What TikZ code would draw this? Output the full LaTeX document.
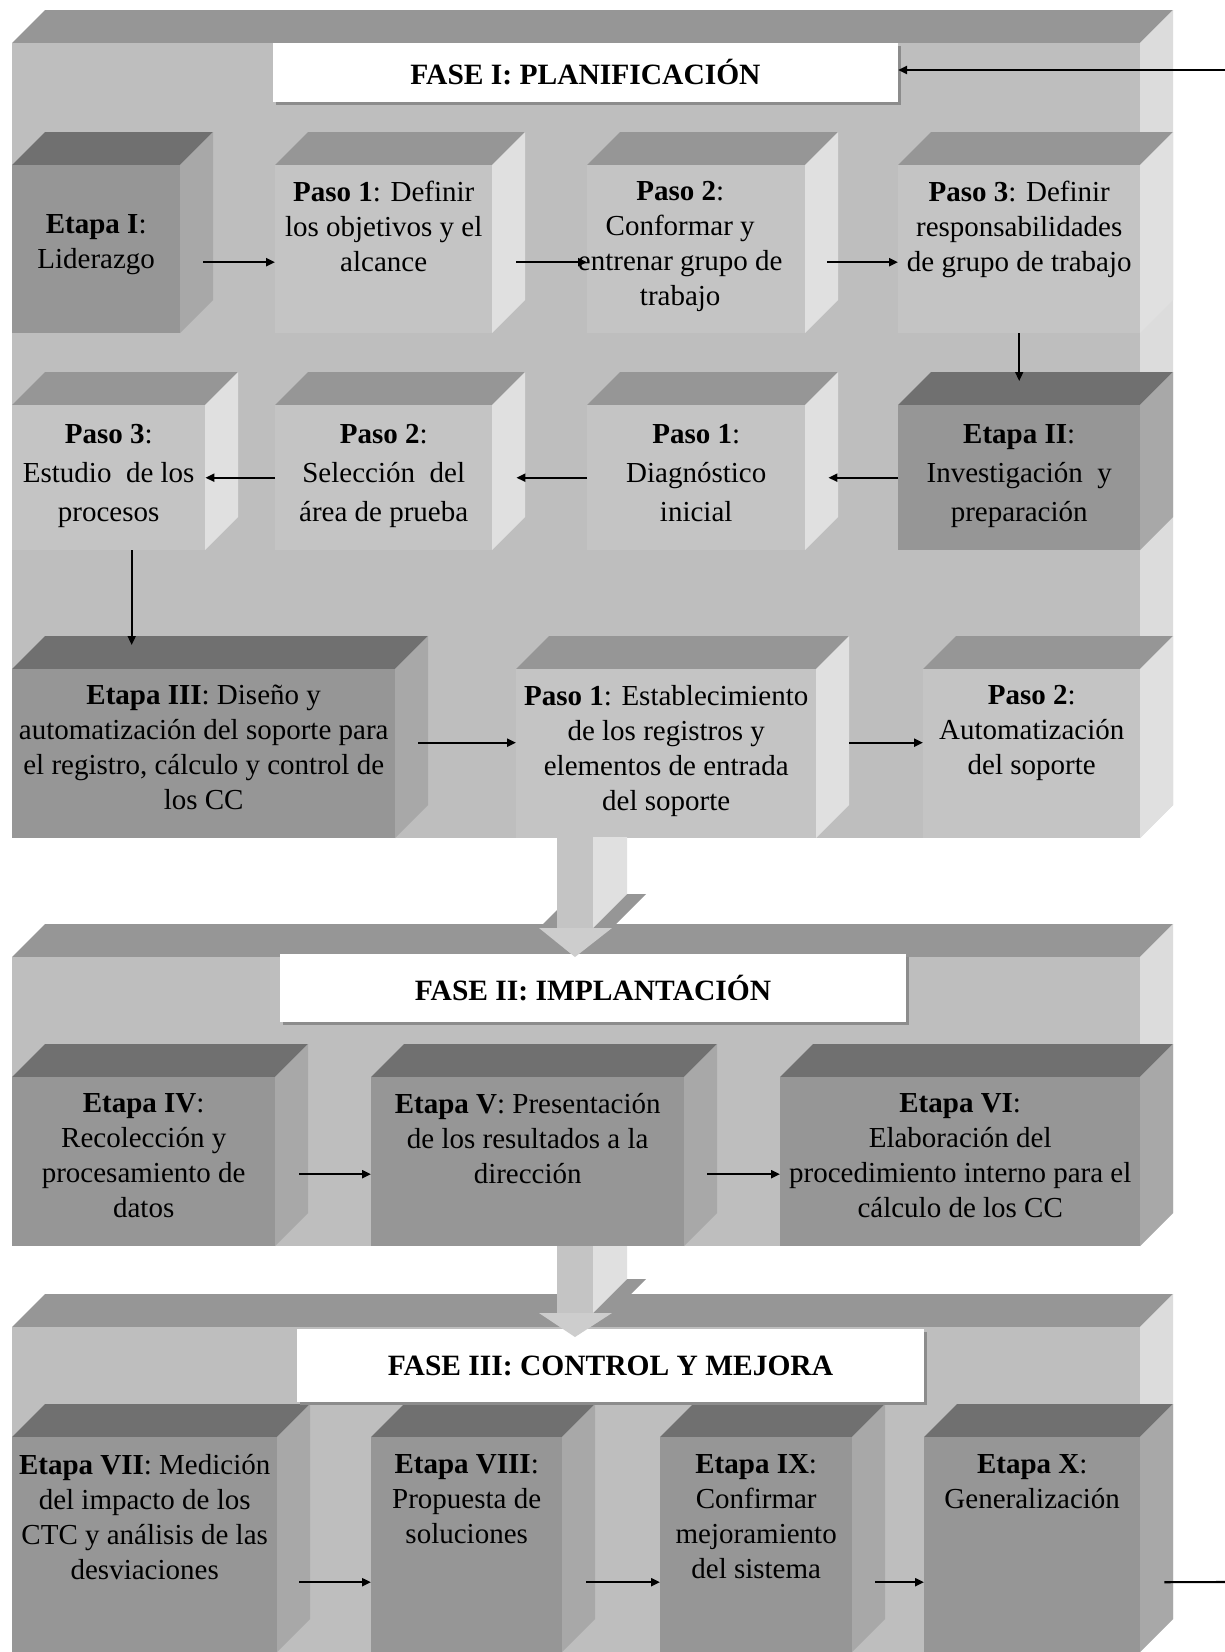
\documentclass[tikz,border=0pt]{standalone}
\usepackage{fontspec}
\setmainfont{Liberation Serif}
\usetikzlibrary{arrows.meta}
\usetikzlibrary{positioning}
\usetikzlibrary{shadows}

\definecolor{pasoF}{HTML}{C4C4C4}
\definecolor{pasoT}{HTML}{969696}
\definecolor{pasoS}{HTML}{E0E0E0}
\definecolor{etapaF}{HTML}{969696}
\definecolor{etapaT}{HTML}{707070}
\definecolor{etapaS}{HTML}{A8A8A8}
\definecolor{faseF}{HTML}{BEBEBE}
\definecolor{faseT}{HTML}{969696}
\definecolor{faseS}{HTML}{DCDCDC}

% caja 3D: nombre, x, y (esquina sup. izq. del frente), ancho, alto, tipo
\newcommand{\cubo}[6]{%
  \fill[#6T] (#2,#3) -- ++(33,-33) -- ++(#4,0) -- (#2+#4,#3) -- cycle;
  \fill[#6S] (#2+#4,#3) -- ++(33,-33) -- ++(0,#5) -- (#2+#4,#3+#5) -- cycle;
  \node[fill=#6F, anchor=north west, inner sep=0pt, minimum width=#4pt, minimum height=#5pt] (#1) at (#2,#3) {};
}
% flecha gruesa gris entre fases
\newcommand{\flechagris}[3]{%
  \fill[pasoT] (539,#2) -- ++(34,-34) -- (646,#2-34) -- (612,#2) -- cycle;
  \fill[pasoS] (593,#1) -- (627,#1) -- (627,#2-34) -- (593,#2) -- cycle;
  \fill[pasoF] (557,#1) rectangle (593,#2);
  \fill[pasoF!85!white] (539,#2) -- (612,#2) -- (575,#3) -- cycle;
}

\begin{document}
\begin{tikzpicture}[x=1pt,y=-1pt,
    txt/.style={align=center, inner sep=0pt, font=\fontsize{29}{35}\selectfont},
    txtb/.style={txt, font=\fontsize{29}{39}\selectfont},
    titulo/.style={fill=white, inner sep=0pt, font=\bfseries\fontsize{29.5}{35}\selectfont,
        drop shadow={shadow xshift=3pt, shadow yshift=-3pt, fill=black!45, opacity=1}},
    flecha/.style={-{Triangle[length=9pt,width=8pt]}, line width=2.1pt}]
    \path[use as bounding box, fill=white] (0,0) rectangle (1225,1652);
    \coordinate (entrada) at (1225,70);
    \coordinate (salida) at (1225,1582);

    % Fase I
    \cubo{plano1}{12}{43}{1128}{795}{fase}
    \cubo{e1}{12}{165}{168}{168}{etapa}
    \cubo{r1p1}{275}{165}{217}{168}{paso}
    \cubo{r1p2}{587}{165}{218}{168}{paso}
    \cubo{r1p3}{898}{165}{242}{168}{paso}
    \cubo{e2}{898}{405}{242}{145}{etapa}
    \cubo{r2p1}{587}{405}{218}{145}{paso}
    \cubo{r2p2}{275}{405}{217}{145}{paso}
    \cubo{r2p3}{12}{405}{193}{145}{paso}
    \cubo{e3}{12}{669}{383}{169}{etapa}
    \cubo{r3p1}{516}{669}{300}{169}{paso}
    \cubo{r3p2}{923}{669}{217}{169}{paso}

    % Fase II
    \cubo{plano2}{12}{957}{1128}{289}{fase}
    \cubo{e4}{12}{1077}{263}{169}{etapa}
    \cubo{e5}{371}{1077}{313}{169}{etapa}
    \cubo{e6}{780}{1077}{360}{169}{etapa}

    % Fase III
    \cubo{plano3}{12}{1327}{1128}{325}{fase}
    \cubo{e7}{12}{1437}{265}{215}{etapa}
    \cubo{e8}{371}{1437}{191}{215}{etapa}
    \cubo{e9}{660}{1437}{192}{215}{etapa}
    \cubo{e10}{924}{1437}{216}{215}{etapa}

    \node[titulo, minimum width=625pt, minimum height=59pt] (fase1) at (585.5,72.5) {FASE I: PLANIFICACIÓN};
    \node[titulo, minimum width=626pt, minimum height=68pt] (fase2) at (593,988) {FASE II: IMPLANTACIÓN};
    \node[titulo, minimum width=627pt, minimum height=73pt] (fase3) at (610.5,1365.5) {FASE III: CONTROL Y MEJORA};

    \flechagris{837}{928}{957}
    \flechagris{1246}{1313}{1337}

    \node[txt, below=49pt of e1.north] (e1t) {\textbf{Etapa I}:\\Liderazgo};
    \node[txt, below=16pt of r1p1.north] (r1p1t) {\textbf{Paso 1}: Definir\\los objetivos y el\\alcance};
    \node[txt, below=16pt of r1p2.north, xshift=-16pt] (r1p2t) {\textbf{Paso 2}:\\Conformar y\\entrenar grupo de\\trabajo};
    \node[txt, below=16pt of r1p3.north] (r1p3t) {\textbf{Paso 3}: Definir\\responsabilidades\\de grupo de trabajo};

    \node[txtb, below=19pt of e2.north] (e2t) {\textbf{Etapa II}:\\Investigación\ \ y\\preparación};
    \node[txtb, below=19pt of r2p1.north] (r2p1t) {\textbf{Paso 1}:\\Diagnóstico\\inicial};
    \node[txtb, below=19pt of r2p2.north] (r2p2t) {\textbf{Paso 2}:\\Selección\ \ del\\área de prueba};
    \node[txtb, below=19pt of r2p3.north] (r2p3t) {\textbf{Paso 3}:\\Estudio\ \ de los\\procesos};

    \node[txt, below=16pt of e3.north] (e3t) {\textbf{Etapa III}: Diseño y\\automatización del soporte para\\el registro, cálculo y control de\\los CC};
    \node[txt, below=16pt of r3p1.north] (r3p1t) {\textbf{Paso 1}: Establecimiento\\de los registros y\\elementos de entrada\\del soporte};
    \node[txt, below=16pt of r3p2.north] (r3p2t) {\textbf{Paso 2}:\\Automatización\\del soporte};

    \node[txt, below=16pt of e4.north] (e4t) {\textbf{Etapa IV}:\\Recolección y\\procesamiento de\\datos};
    \node[txt, below=16pt of e5.north] (e5t) {\textbf{Etapa V}: Presentación\\de los resultados a la\\dirección};
    \node[txt, below=16pt of e6.north] (e6t) {\textbf{Etapa VI}:\\Elaboración del\\procedimiento interno para el\\cálculo de los CC};

    \node[txt, below=17pt of e7.north] (e7t) {\textbf{Etapa VII}: Medición\\del impacto de los\\CTC y análisis de las\\desviaciones};
    \node[txt, below=17pt of e8.north] (e8t) {\textbf{Etapa VIII}:\\Propuesta de\\soluciones};
    \node[txt, below=17pt of e9.north] (e9t) {\textbf{Etapa IX}:\\Confirmar\\mejoramiento\\del sistema};
    \node[txt, below=17pt of e10.north] (e10t) {\textbf{Etapa X}:\\Generalización};

    \draw[flecha, line width=2.6pt] (entrada) -- (entrada -| fase1.east);
    \draw[flecha] ([xshift=23pt,yshift=-13pt]e1.east) -- ([yshift=-13pt]r1p1.west);
    \draw[flecha] ([xshift=24pt,yshift=-13pt]r1p1.east) -- ([yshift=-13pt]r1p2.west);
    \draw[flecha] ([xshift=22pt,yshift=-13pt]r1p2.east) -- ([yshift=-13pt]r1p3.west);
    \draw[flecha, line width=1.6pt] (r1p3.south) -- ([yshift=24pt]e2.north);
    \draw[flecha] (e2.west) -- ([xshift=23pt]r2p1.east);
    \draw[flecha] (r2p1.west) -- ([xshift=24pt]r2p2.east);
    \draw[flecha] (r2p2.west) -- (r2p3.east);
    \draw[flecha, line width=1.6pt] ([xshift=23pt]r2p3.south) -- ([xshift=23pt,yshift=24pt]r2p3.south |- e3.north);
    \draw[flecha] ([xshift=23pt,yshift=11pt]e3.east) -- ([yshift=11pt]r3p1.west);
    \draw[flecha] ([xshift=33pt,yshift=11pt]r3p1.east) -- ([yshift=11pt]r3p2.west);
    \draw[flecha] ([xshift=24pt,yshift=-12.5pt]e4.east) -- ([yshift=-12.5pt]e5.west);
    \draw[flecha] ([xshift=23pt,yshift=-12.5pt]e5.east) -- ([yshift=-12.5pt]e6.west);
    \draw[flecha] ([xshift=22pt,yshift=-37.5pt]e7.east) -- ([yshift=-37.5pt]e8.west);
    \draw[flecha] ([xshift=24pt,yshift=-37.5pt]e8.east) -- ([yshift=-37.5pt]e9.west);
    \draw[flecha] ([xshift=23pt,yshift=-37.5pt]e9.east) -- ([yshift=-37.5pt]e10.west);
    \draw[line width=2.1pt] ([xshift=24pt,yshift=-37.5pt]e10.east) -- (salida);
\end{tikzpicture}
\end{document}
